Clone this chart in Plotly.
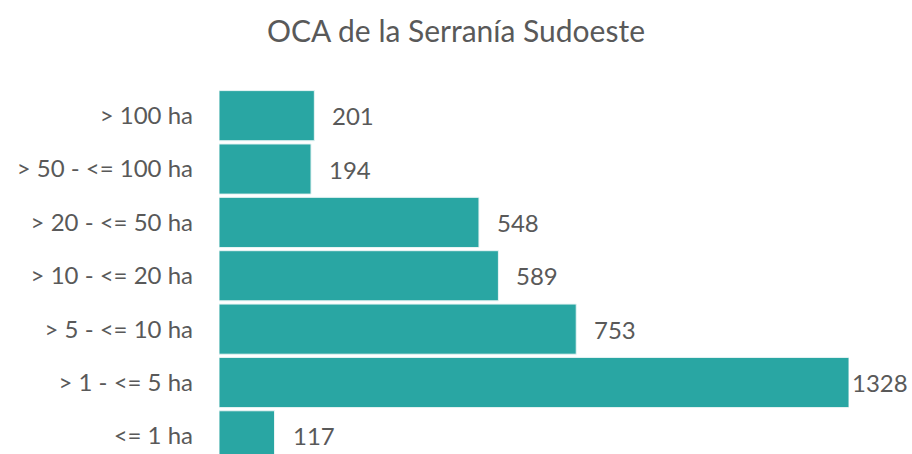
import plotly.graph_objects as go

categories = ["<= 1 ha", "> 1 - <= 5 ha", "> 5 - <= 10 ha", "> 10 - <= 20 ha",
              "> 20 - <= 50 ha", "> 50 - <= 100 ha", "> 100 ha"]
values = [117, 1328, 753, 589, 548, 194, 201]

FONT = "Lato, Carlito, Calibri, sans-serif"
GREY = "#595959"

fig = go.Figure()
fig.add_trace(go.Bar(
    y=categories, x=values, orientation="h",
    marker=dict(color="#29A6A3", line=dict(color="#E8F4F4", width=1)),
    width=0.94, hoverinfo="x+y",
))

for c, v in zip(categories, values):
    fig.add_annotation(
        x=v, y=c, xref="x", yref="y", text=str(v), showarrow=False,
        xanchor="left", xshift=(1 if v == max(values) else 16),
        font=dict(family=FONT, size=24, color=GREY),
    )

fig.update_layout(
    width=912, height=454,
    margin=dict(l=219, r=63, t=89, b=0),
    paper_bgcolor="white", plot_bgcolor="white",
    title=dict(text="OCA de la Serranía Sudoeste", x=0.5, xanchor="center",
               y=0.93, yanchor="middle",
               font=dict(family=FONT, size=30, color=GREY)),
    showlegend=False,
    xaxis=dict(range=[0, 1328], visible=False, showgrid=False),
    yaxis=dict(categoryorder="array", categoryarray=categories,
               range=[-0.34, 6.5], showgrid=False, zeroline=False,
               showline=False, ticks="", ticklabelstandoff=25,
               tickfont=dict(family=FONT, size=24, color=GREY)),
)

fig.write_html(
    "out.html",
    config={"displayModeBar": False},
    post_script="document.body.style.margin='0';document.body.style.overflow='hidden';",
)
